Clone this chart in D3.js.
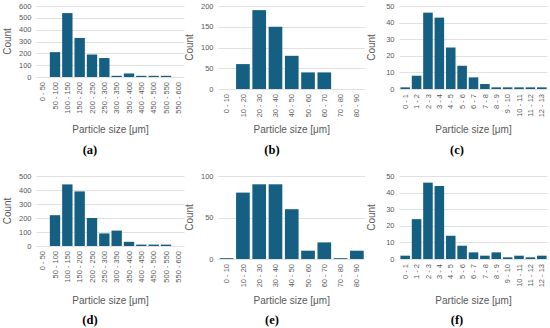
<!DOCTYPE html>
<html>
<head>
<meta charset="utf-8">
<script src="https://cdn.jsdelivr.net/npm/d3@7"></script>
<style>
  body { margin: 0; background: #fff; }
  svg { display: block; }
  .tick-label { font-family: "Liberation Sans", Arial, sans-serif; font-size: 7.5px; fill: #595959; }
  .axis-title { font-family: "Liberation Sans", Arial, sans-serif; font-size: 10px; fill: #595959; }
  .sub-label { font-family: "Liberation Serif", "Times New Roman", serif; font-size: 12.5px; font-weight: bold; fill: #000; }
</style>
</head>
<body>
<div class="chart"></div>
<script>
// bin labels
const binsA = ["0 - 50","50 - 100","100 - 150","150 - 200","200 - 250","250 - 300","300 - 350","350 - 400","400 - 450","450 - 500","500 - 550","550 - 600"];
const binsB = ["0 - 10","10 - 20","20 - 30","30 - 40","40 - 50","50 - 60","60 - 70","70 - 80","80 - 90"];
const binsC = ["0 - 1","1 - 2","2 - 3","3 - 4","4 - 5","5 - 6","6 - 7","7 - 8","8 - 9","9 - 10","10 - 11","11 - 12","12 - 13"];

// counts
const countsA = [0, 210, 540, 330, 190, 160, 10, 30, 10, 10, 10, 0];
const countsB = [0, 60, 190, 150, 80, 40, 40, 0, 0];
const countsC = [1, 8, 46, 43, 25, 14, 7, 3, 1, 1, 1, 1, 1];
const countsD = [0, 220, 440, 390, 200, 90, 110, 30, 10, 10, 10, 0];
const countsE = [1, 80, 90, 90, 60, 10, 20, 1, 10];
const countsF = [2, 24, 46, 44, 14, 8, 4, 2, 4, 1, 2, 1, 2];

// y tick values
const ticksA = [0, 100, 200, 300, 400, 500, 600];
const ticksB = [0, 50, 100, 150, 200];
const ticksC = [0, 10, 20, 30, 40, 50];
const ticksD = [0, 100, 200, 300, 400, 500];
const ticksE = [0, 50, 100];
const ticksF = [0, 10, 20, 30, 40, 50];

const subLabels = ["(a)", "(b)", "(c)", "(d)", "(e)", "(f)"];
const xTitle = "Particle size [μm]";
const yTitle = "Count";

const W = 550, H = 328;
const barColor = "#156082";
const gridColor = "#d9d9d9";

const svg = d3.select(".chart").append("svg")
    .attr("width", W)
    .attr("height", H);

// layout of each small chart
const panels = [
    {bins: binsA, counts: countsA, ticks: ticksA, label: subLabels[0], x0: 36.5, x1: 184.5, top: 6, bottom: 77, countX: 7, panelMid: 90, titleY: 133, labelY: 154},
    {bins: binsB, counts: countsB, ticks: ticksB, label: subLabels[1], x0: 218.5, x1: 365, top: 6, bottom: 89, countX: 189, panelMid: 272, titleY: 133, labelY: 154},
    {bins: binsC, counts: countsC, ticks: ticksC, label: subLabels[2], x0: 399.5, x1: 547.5, top: 6, bottom: 89, countX: 371, panelMid: 457, titleY: 133, labelY: 154},
    {bins: binsA, counts: countsD, ticks: ticksD, label: subLabels[3], x0: 36.5, x1: 184.5, top: 176, bottom: 246, countX: 7, panelMid: 90, titleY: 304, labelY: 324},
    {bins: binsB, counts: countsE, ticks: ticksE, label: subLabels[4], x0: 218.5, x1: 365, top: 176, bottom: 259, countX: 189, panelMid: 272, titleY: 304, labelY: 324},
    {bins: binsC, counts: countsF, ticks: ticksF, label: subLabels[5], x0: 399.5, x1: 547.5, top: 176, bottom: 259, countX: 371, panelMid: 457, titleY: 304, labelY: 324}
];

panels.forEach(p => {
    const g = svg.append("g");

    const xScale = d3.scaleBand()
        .domain(p.bins)
        .range([p.x0, p.x1])
        .paddingInner(0.16)
        .paddingOuter(0.08);

    const yScale = d3.scaleLinear()
        .domain([0, d3.max(p.ticks)])
        .range([p.bottom, p.top]);

    // gridlines
    g.selectAll(".grid")
        .data(p.ticks)
        .enter()
        .append("line")
        .attr("x1", p.x0)
        .attr("x2", p.x1)
        .attr("y1", d => Math.round(yScale(d)) + 0.5)
        .attr("y2", d => Math.round(yScale(d)) + 0.5)
        .attr("stroke", gridColor)
        .attr("stroke-width", 0.8);

    // y tick labels
    g.selectAll(".ylab")
        .data(p.ticks)
        .enter()
        .append("text")
        .attr("class", "tick-label")
        .attr("x", p.x0 - 5)
        .attr("y", d => yScale(d))
        .attr("dy", "0.35em")
        .attr("text-anchor", "end")
        .text(d => d);

    // bars
    g.selectAll("rect")
        .data(p.counts)
        .enter()
        .append("rect")
        .attr("x", (d, i) => xScale(p.bins[i]))
        .attr("width", xScale.bandwidth())
        .attr("y", d => yScale(d))
        .attr("height", d => yScale(0) - yScale(d))
        .attr("fill", barColor);

    // x tick labels, rotated
    g.selectAll(".xlab")
        .data(p.bins)
        .enter()
        .append("text")
        .attr("class", "tick-label")
        .attr("text-anchor", "end")
        .attr("dy", "0.35em")
        .attr("transform", d => `translate(${xScale(d) + xScale.bandwidth() / 2},${p.bottom + 5})rotate(-90)`)
        .text(d => d);

    // axis titles
    g.append("text")
        .attr("class", "axis-title")
        .attr("x", (p.x0 + p.x1) / 2)
        .attr("y", p.titleY)
        .attr("text-anchor", "middle")
        .text(xTitle);

    g.append("text")
        .attr("class", "axis-title")
        .attr("text-anchor", "middle")
        .attr("dy", "0.35em")
        .attr("transform", `translate(${p.countX},${(p.top + p.bottom) / 2})rotate(-90)`)
        .text(yTitle);

    // sub figure label
    g.append("text")
        .attr("class", "sub-label")
        .attr("x", p.panelMid)
        .attr("y", p.labelY)
        .attr("text-anchor", "middle")
        .text(p.label);
});
</script>
</body>
</html>
